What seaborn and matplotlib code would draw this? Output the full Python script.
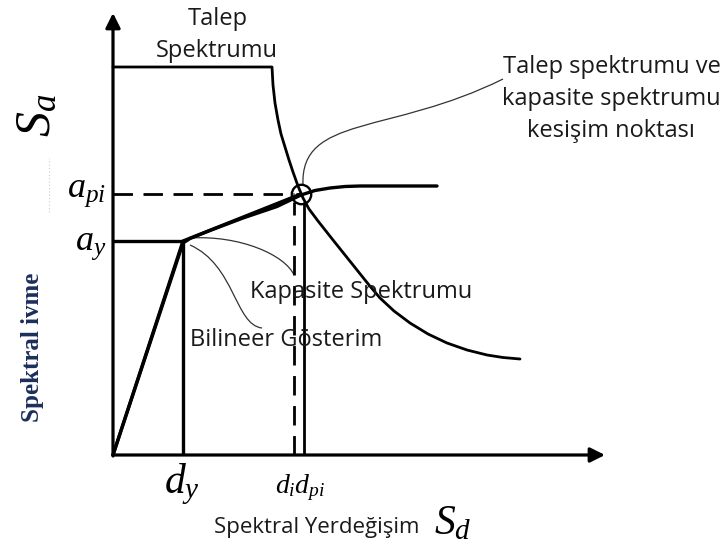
import numpy as np
import pandas as pd
import matplotlib
matplotlib.use("Agg")
import matplotlib.pyplot as plt
from matplotlib.path import Path
from matplotlib.patches import PathPatch
import seaborn as sns

# ---- schematic data (Sd, Sa) in drawing units ----
# demand spectrum: plateau then descending branch
demand_sd = [0, 159, 160, 162, 165, 168, 172, 176, 180, 185, 190, 196, 205, 220,
             232, 244, 256, 267, 281, 297, 315, 334, 354, 374, 390, 407]
demand_sa = [388, 388, 370, 352, 335, 321, 308, 295, 283, 269, 257, 246, 234, 215,
             200, 185, 170, 157, 144, 132, 121, 112, 105, 100, 97.5, 96]

# capacity spectrum: elastic branch, softening, then plateau
capacity_sd = [0, 70, 77, 97, 130, 164, 188, 202, 217, 232, 247, 324]
capacity_sa = [0, 212, 216.5, 224.5, 237, 248.5, 260, 264.5, 267, 268.5, 269, 269]

# bilinear idealisation and performance point
d_y, a_y = 70, 214
d_i, d_pi, a_pi = 181, 191, 261
perf_sd, perf_sa = 188, 261
bilinear_sd = [0, d_y, perf_sd]
bilinear_sa = [0, a_y, perf_sa]

# axis extents
sd_max, sa_max = 492, 442

sns.set_style("white")
plt.rcParams["font.family"] = ["Open Sans", "DejaVu Sans"]
plt.rcParams["mathtext.fontset"] = "custom"
plt.rcParams["mathtext.it"] = "Liberation Serif:italic"
plt.rcParams["mathtext.rm"] = "Liberation Serif"

fig = plt.figure(figsize=(7.25, 5.54), dpi=100)
ax = fig.add_axes([0, 0, 1, 1])
ax.set_xlim(-113, 612)
ax.set_ylim(-99, 455)
ax.axis("off")

K = "#000000"

# axes with arrow heads
arrow = dict(arrowstyle="-|>", lw=2.3, color=K, mutation_scale=22, shrinkA=0, shrinkB=0)
ax.annotate("", xy=(sd_max, 0), xytext=(0, 0), arrowprops=arrow)
ax.annotate("", xy=(0, sa_max), xytext=(0, -1), arrowprops=arrow)

# demand spectrum
sns.lineplot(x=demand_sd, y=demand_sa, sort=False, estimator=None, ax=ax,
             color=K, lw=2.0)
# capacity spectrum
sns.lineplot(x=capacity_sd, y=capacity_sa, sort=False, estimator=None, ax=ax,
             color=K, lw=2.4)
# bilinear representation
sns.lineplot(x=bilinear_sd, y=bilinear_sa, sort=False, estimator=None, ax=ax,
             color=K, lw=2.4)

# yield reference lines
ax.plot([0, d_y], [a_y, a_y], color=K, lw=2.4, solid_capstyle="butt")
ax.plot([d_y, d_y], [0, a_y], color=K, lw=2.4, solid_capstyle="butt")

# performance point reference lines
ax.plot([0, d_i], [a_pi, a_pi], color=K, lw=2.0, dashes=(7, 3.8))
ax.plot([d_i, d_i], [0, a_pi - 8], color=K, lw=2.0, dashes=(7, 3.8))
ax.plot([d_pi, d_pi], [0, a_pi - 8], color=K, lw=2.0, solid_capstyle="butt")

# performance point marker
ax.plot([perf_sd], [perf_sa], marker="o", ms=14, mfc="none", mec=K, mew=1.7)
ax.plot([perf_sd - 4, perf_sd + 4], [perf_sa, perf_sa], color=K, lw=1.2)

# leader lines
def leader(p):
    codes = [Path.MOVETO, Path.CURVE4, Path.CURVE4, Path.CURVE4]
    ax.add_patch(PathPatch(Path(p, codes), fill=False, lw=0.9, ec="#333333"))

leader([(190, 270), (187, 340), (277, 320), (390, 376)])
leader([(77, 217), (127, 220), (172, 200), (181, 180)])
leader([(77, 210), (122, 190), (122, 130), (149, 127)])

# faint dotted mark by the Sa label
ax.plot([-64, -64], [243, 297], color="#cccccc", lw=0.8, ls=(0, (1, 2)))

# labels
tk = dict(color="#1a1a1a", fontsize=17)
ax.text(105, 436, "Talep", ha="center", va="center", **tk)
ax.text(104, 404, "Spektrumu", ha="center", va="center", **tk)
ax.text(499, 388, "Talep spektrumu ve", ha="center", va="center", **tk)
ax.text(498, 356, "kapasite spektrumu", ha="center", va="center", **tk)
ax.text(498, 324, "kesişim noktası", ha="center", va="center", **tk)
ax.text(137, 163, "Kapasite Spektrumu", ha="left", va="center", **tk)
ax.text(77, 115, "Bilineer Gösterim", ha="left", va="center", **tk)
ax.text(204, -73, "Spektral Yerdeğişim", ha="center", va="center",
        color="#1a1a1a", fontsize=16)

ax.text(-76, 340, r"$S_a$", rotation=90, ha="center", va="center", fontsize=36, color=K)
ax.text(340, -68, r"$S_d$", ha="center", va="center", fontsize=30, color=K)
ax.text(-7, 258, r"$a_{pi}$", ha="right", va="baseline", fontsize=26, color=K)
ax.text(-7, 205, r"$a_y$", ha="right", va="baseline", fontsize=26, color=K)
ax.text(69, -38, r"$d_y$", ha="center", va="baseline", fontsize=30, color=K)
ax.text(187, -38, r"$d_i d_{pi}$", ha="center", va="baseline", fontsize=20, color=K)

ax.text(-81, 108, "Spektral ivme", rotation=90, ha="center", va="center",
        fontsize=18, fontweight="bold", family="Liberation Serif", color="#1c2f5c")

fig.savefig("out.png", dpi=100)
